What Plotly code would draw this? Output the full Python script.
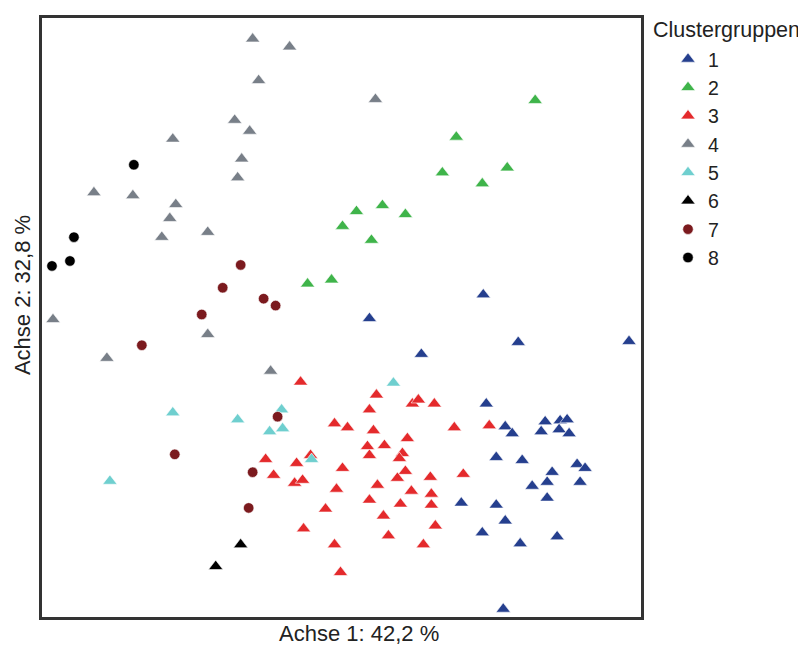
import plotly.graph_objects as go

# Scores (Achse 1 = x, Achse 2 = y)
c1_x = [1.42, 0.28, 1.77, 2.88, 0.80, 1.45, 1.64, 1.71, 2.04, 2.00, 2.19, 2.26, 2.18, 2.28, 1.55,
        1.81, 2.36, 2.44, 2.11, 2.06, 2.39, 1.91, 2.06, 1.20, 1.55, 1.64, 1.41, 1.79, 2.16, 1.62]
c1_y = [0.23, -0.01, -0.25, -0.24, -0.37, -0.87, -1.10, -1.17, -1.05, -1.15, -1.04, -1.03, -1.13, -1.17, -1.41,
        -1.44, -1.48, -1.52, -1.56, -1.66, -1.66, -1.70, -1.82, -1.87, -1.89, -2.05, -2.17, -2.28, -2.21, -2.94]

c2_x = [1.94, 1.15, 1.01, 1.66, 1.41, 0.41, 0.15, 0.64, 0.01, 0.30, -0.34, -0.10]
c2_y = [2.19, 1.82, 1.46, 1.51, 1.35, 1.13, 1.07, 1.04, 0.92, 0.78, 0.34, 0.38]

c3_x = [-0.41, -0.07, 0.06, -0.76, -0.45, -0.31, 0.01, -0.68, -0.47, -0.39, -0.05, -0.16, -0.38, -0.07, -0.01,
        0.35, 0.28, 0.32, 0.26, 0.43, 0.28, 0.36, 0.28, 0.42, 0.47,
        0.71, 0.77, 0.93, 1.13, 1.48, 0.66, 0.61, 0.58, 0.64, 0.56, 0.89, 1.22, 0.70, 0.90, 0.59, 0.90, 0.94, 0.82]
c3_y = [-0.65, -1.07, -1.11, -1.43, -1.47, -1.39, -1.52, -1.59, -1.67, -1.64, -1.73, -1.93, -2.13, -2.29, -2.57,
        -0.78, -0.93, -1.14, -1.30, -1.29, -1.39, -1.69, -1.84, -2.00, -2.20,
        -0.87, -0.83, -0.87, -1.11, -1.09, -1.22, -1.37, -1.42, -1.55, -1.62, -1.61, -1.58, -1.75, -1.78, -1.88, -1.89, -2.10, -2.29]

c4_x = [-0.89, -0.52, -0.83, 0.34, -1.07, -0.92, -1.69, -1.00, -1.04, -2.48, -2.09, -1.66, -1.72, -1.80, -1.34,
        -2.89, -1.34, -2.35, -0.71]
c4_y = [2.81, 2.73, 2.39, 2.20, 1.99, 1.88, 1.80, 1.60, 1.41, 1.26, 1.23, 1.14, 1.00, 0.81, 0.86,
        -0.02, -0.17, -0.41, -0.54]

c5_x = [-1.69, -1.04, -0.60, -0.72, -0.59, -0.30, -2.32, 0.52]
c5_y = [-0.96, -1.03, -0.93, -1.15, -1.12, -1.43, -1.65, -0.66]

c6_x = [-1.01, -1.26]
c6_y = [-2.29, -2.51]

c7_x = [-1.01, -1.19, -0.78, -0.66, -1.40, -2.00, -0.64, -1.67, -0.89, -0.93]
c7_y = [0.53, 0.30, 0.19, 0.12, 0.03, -0.28, -1.00, -1.38, -1.56, -1.92]

c8_x = [-2.08, -2.68, -2.72, -2.90]
c8_y = [1.54, 0.81, 0.57, 0.52]

group_names = ["1", "2", "3", "4", "5", "6", "7", "8"]
xs = [c1_x, c2_x, c3_x, c4_x, c5_x, c6_x, c7_x, c8_x]
ys = [c1_y, c2_y, c3_y, c4_y, c5_y, c6_y, c7_y, c8_y]
colors = ["#253f8e", "#3fb44a", "#e42a2c", "#787f88", "#6fcfcf", "#000000", "#7b1a1e", "#000000"]
symbols = ["triangle-up"] * 6 + ["circle", "circle"]

x_title = "Achse 1: 42,2 %"
y_title = "Achse 2: 32,8 %"
legend_title = "Clustergruppen"

FONT = "Liberation Sans, Arial, sans-serif"

fig = go.Figure()
for name, x, y, col, sym in zip(group_names, xs, ys, colors, symbols):
    is_tri = sym.startswith("triangle")
    fig.add_trace(go.Scatter(
        x=x, y=y, mode="markers", name=name,
        marker=dict(symbol=sym, color=col, size=12.5 if is_tri else 10.5,
                    line=dict(color="white", width=0.6)),
    ))

# page body has an 8px default margin: figure occupies (8,8)-(806,645)
OFF = 8
W, H = 806 - OFF, 645 - OFF
# target plot box in window pixels: x 42..641, y 15..617
L = 42 - OFF
R = 806 - 641
T = 15 - OFF
B = 645 - 617
pw = W - L - R
ph = H - T - B

def px_x(p):
    return (p - OFF - L) / pw

def px_y(p):
    return (H - B - (p - OFF)) / ph

fig.update_layout(
    width=W, height=H,
    margin=dict(l=L, r=R, t=T, b=B),
    paper_bgcolor="white", plot_bgcolor="white",
    font=dict(family=FONT, color="#222222", size=19.5),
    showlegend=True,
    legend=dict(x=px_x(668), y=px_y(37), xanchor="left", yanchor="top",
                font=dict(size=19.5, family=FONT, color="#222222"),
                bgcolor="rgba(0,0,0,0)", itemclick=False),
    annotations=[
        dict(text=x_title, xref="paper", yref="paper", x=px_x(359), y=px_y(634),
             xanchor="center", yanchor="middle", showarrow=False,
             font=dict(size=22, family=FONT, color="#222222")),
        dict(text=y_title, xref="paper", yref="paper", x=px_x(22), y=px_y(293.5),
             xanchor="center", yanchor="middle", showarrow=False, textangle=-90,
             font=dict(size=22, family=FONT, color="#222222")),
        dict(text=legend_title, xref="paper", yref="paper", x=px_x(651), y=px_y(27),
             xanchor="left", yanchor="middle", showarrow=False,
             font=dict(size=21.5, family=FONT, color="#222222")),
    ],
)
fig.update_xaxes(range=[-3, 3], showgrid=False, zeroline=False, showticklabels=False, ticks="",
                 showline=True, mirror=True, linecolor="#333333", linewidth=2.5)
fig.update_yaxes(range=[-3.02, 3.02], showgrid=False, zeroline=False, showticklabels=False, ticks="",
                 showline=True, mirror=True, linecolor="#333333", linewidth=2.5)

fig.write_html("out.html")
